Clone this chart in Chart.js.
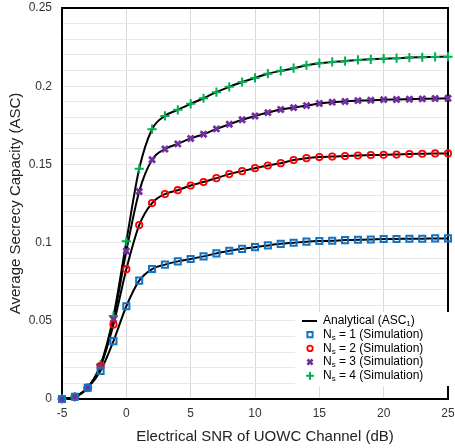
<!DOCTYPE html>
<html>
<head>
<meta charset="utf-8">
<script src="https://cdn.jsdelivr.net/npm/chart.js@4/dist/chart.umd.min.js"></script>
<style>
  html, body { margin: 0; padding: 0; background: #fff; }
  #wrap { width: 455px; height: 448px; }
</style>
</head>
<body>
<div id="wrap"><canvas id="asc"></canvas></div>
<script>
const FONT = '"Liberation Sans", Arial, sans-serif';

// Electrical SNR (dB)
const snr = [-5, -4, -3, -2, -1, 0, 1, 2, 3, 4, 5, 6, 7, 8, 9, 10, 11, 12, 13, 14, 15, 16, 17, 18, 19, 20, 21, 22, 23, 24, 25];

// ASC per number of sources
const ns1 = [0, 0.0014, 0.0072, 0.018, 0.037, 0.0593, 0.0757, 0.0831, 0.0859, 0.088, 0.0895, 0.0912, 0.0931, 0.0948, 0.096, 0.0971, 0.0982, 0.0992, 0.0999, 0.1006, 0.101, 0.1012, 0.1016, 0.1018, 0.102, 0.1023, 0.1023, 0.1025, 0.1025, 0.1027, 0.1027];
const ns2 = [0, 0.0014, 0.0072, 0.021, 0.0476, 0.083, 0.1112, 0.1253, 0.131, 0.1335, 0.1365, 0.1387, 0.1412, 0.1438, 0.1457, 0.1476, 0.1493, 0.1508, 0.1528, 0.154, 0.1547, 0.155, 0.1553, 0.1557, 0.156, 0.1561, 0.1563, 0.1566, 0.1568, 0.157, 0.157];
const ns3 = [0, 0.0014, 0.0072, 0.021, 0.051, 0.0946, 0.1327, 0.153, 0.1598, 0.1631, 0.1666, 0.1693, 0.1727, 0.1757, 0.1785, 0.181, 0.1831, 0.1851, 0.1863, 0.1876, 0.1889, 0.1898, 0.1902, 0.1908, 0.191, 0.1914, 0.1915, 0.1917, 0.1919, 0.1921, 0.1923];
const ns4 = [0, 0.0014, 0.0072, 0.022, 0.053, 0.1008, 0.1472, 0.1725, 0.181, 0.1849, 0.1887, 0.1923, 0.1962, 0.1996, 0.2027, 0.2053, 0.208, 0.2098, 0.2115, 0.2134, 0.2147, 0.2155, 0.216, 0.2168, 0.2172, 0.2176, 0.2179, 0.2183, 0.2185, 0.2187, 0.2189];

const SERIES = [
  { n: 1, values: ns1, color: '#1273c4', style: 'rect', radius: 4.3, width: 2 },
  { n: 2, values: ns2, color: '#ff0000', style: 'circle', radius: 3.2, width: 1.8 },
  { n: 3, values: ns3, color: '#7030a0', style: 'crossRot', radius: 4.2, width: 2.8 },
  { n: 4, values: ns4, color: '#00b050', style: 'cross', radius: 4.6, width: 2 },
];

const X_TITLE = 'Electrical SNR of UOWC Channel (dB)';

const toPoints = vals => snr.map((x, i) => ({ x, y: vals[i] }));

const datasets = [];
// analytical curves underneath
SERIES.forEach(s => {
  datasets.push({
    data: toPoints(s.values),
    showLine: true,
    borderColor: '#000',
    borderWidth: 2,
    pointRadius: 0,
    cubicInterpolationMode: 'monotone',
    order: 2,
  });
});
// simulation markers on top
SERIES.forEach(s => {
  datasets.push({
    data: toPoints(s.values),
    showLine: false,
    pointStyle: s.style,
    pointRadius: s.radius,
    pointBorderWidth: s.width,
    pointBorderColor: s.color,
    pointBackgroundColor: 'rgba(0,0,0,0)',
    clip: false,
    order: 1,
  });
});

// black box round the plot area
const frame = {
  id: 'frame',
  beforeDatasetsDraw(chart) {
    const { ctx, chartArea: a } = chart;
    ctx.save();
    ctx.strokeStyle = '#000';
    ctx.lineWidth = 2;
    ctx.strokeRect(a.left, a.top, a.right - a.left, a.bottom - a.top);
    ctx.restore();
  },
};

function drawSubText(ctx, x, y, parts) {
  for (const [txt, sub] of parts) {
    ctx.font = sub ? '8px ' + FONT : '12px ' + FONT;
    ctx.fillText(txt, x, sub ? y + 3 : y);
    x += ctx.measureText(txt).width;
  }
}

const legendBox = {
  id: 'legendBox',
  afterDraw(chart) {
    const { ctx } = chart;
    const x0 = 295, y0 = 312, w = 156, h = 74;
    const rowY = [321, 334.7, 348.4, 362.1, 375.8];
    ctx.save();
    ctx.fillStyle = '#fff';
    ctx.fillRect(x0, y0, w, h);

    ctx.textBaseline = 'middle';
    ctx.textAlign = 'left';

    ctx.strokeStyle = '#000';
    ctx.lineWidth = 2;
    ctx.beginPath();
    ctx.moveTo(302, rowY[0]);
    ctx.lineTo(317, rowY[0]);
    ctx.stroke();
    ctx.fillStyle = '#000';
    drawSubText(ctx, 323, rowY[0], [['Analytical (ASC', false], ['1', true], [')', false]]);

    SERIES.forEach((s, i) => {
      const y = rowY[i + 1];
      ctx.strokeStyle = s.color;
      ctx.fillStyle = 'rgba(0,0,0,0)';
      ctx.lineWidth = s.width;
      Chart.helpers.drawPoint(ctx, { pointStyle: s.style, radius: s.radius * 0.85, rotation: 0, borderWidth: s.width }, 310, y);
      ctx.fillStyle = '#000';
      drawSubText(ctx, 323, y, [['N', false], ['s', true], [' = ' + s.n + ' (Simulation)', false]]);
    });

    // x axis title, sits a little right of the plot centre
    ctx.font = '15px ' + FONT;
    ctx.fillStyle = '#222';
    ctx.textAlign = 'center';
    ctx.fillText(X_TITLE, 265, 437);
    ctx.restore();
  },
};

new Chart(document.getElementById('asc'), {
  type: 'scatter',
  data: { datasets },
  options: {
    responsive: true,
    maintainAspectRatio: false,
    animation: false,
    layout: { padding: { top: 8, right: 3, left: 0, bottom: 0 } },
    plugins: {
      legend: { display: false },
      tooltip: { enabled: false },
    },
    scales: {
      x: {
        type: 'linear',
        min: -5,
        max: 25,
        border: { display: false },
        grid: { color: '#d9d9d9', drawTicks: false },
        ticks: {
          stepSize: 5,
          padding: 7,
          color: '#333',
          font: { family: FONT, size: 12 },
        },
        afterFit(scale) {
          scale.height = 49;
          scale.paddingLeft = 0;
          scale.paddingRight = 0;
        },
      },
      y: {
        min: 0,
        max: 0.25,
        border: { display: false },
        grid: { color: '#e8e8e8', drawTicks: false },
        ticks: {
          stepSize: 0.01,
          autoSkip: false,
          padding: 10,
          color: '#333',
          font: { family: FONT, size: 12 },
          callback: v => (Math.round(v * 100) % 5 === 0 ? String(Number(v.toFixed(2))) : ''),
        },
        title: {
          display: true,
          text: 'Average Secrecy Capacity (ASC)',
          color: '#222',
          font: { family: FONT, size: 15 },
          padding: { top: 7, bottom: 0 },
        },
        afterFit(scale) {
          scale.width = 62;
          scale.paddingTop = 0;
          scale.paddingBottom = 0;
        },
      },
    },
  },
  plugins: [frame, legendBox],
});
</script>
</body>
</html>
